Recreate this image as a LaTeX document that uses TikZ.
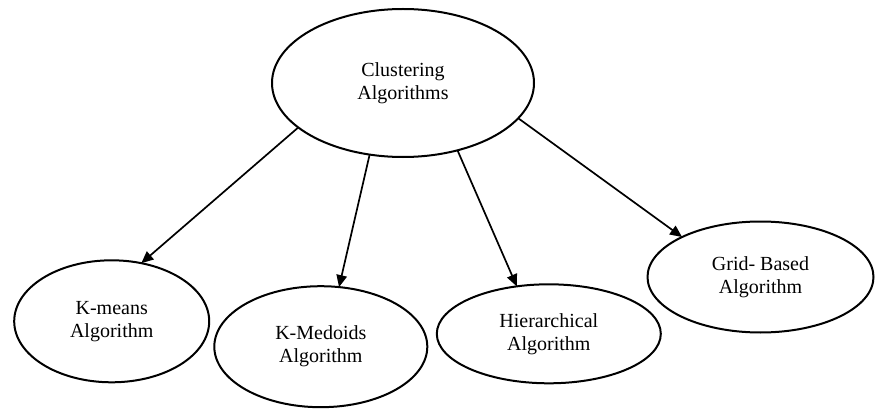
\documentclass[tikz,border=0pt]{standalone}
\usepackage{fontspec}
\setmainfont{Liberation Serif}
\usetikzlibrary{shapes.geometric,arrows.meta}
\tikzset{
  ell/.style={ellipse, draw, line width=2pt, inner sep=0pt, outer sep=0pt,
    align=center, font=\fontsize{20}{23}\selectfont,
    execute at begin node={\rule{0pt}{19.5pt}}},
  conn/.style={line width=1.7pt, -{Triangle[length=12pt,width=10.5pt]}}
}
\begin{document}
\begin{tikzpicture}[x=1pt,y=-1pt]
\useasboundingbox (0,0) rectangle (875,409);
\node[ell, minimum width=262pt, minimum height=148pt] (top) at (403,83) {Clustering\\Algorithms};
\node[ell, minimum width=195pt, minimum height=122pt] (km) at (111.7,321.3) {K-means\\Algorithm};
\node[ell, minimum width=213pt, minimum height=121pt] (kmed) at (320.8,346.7) {K-Medoids\\Algorithm};
\node[ell, minimum width=224pt, minimum height=99pt] (hier) at (548.8,333.8) {Hierarchical\\Algorithm};
\node[ell, minimum width=226pt, minimum height=111pt] (grid) at (760.5,277) {Grid- Based\\Algorithm};
\draw[conn] (top.203.5) -- (km.63.5);
\draw[conn] (top.245.9) -- (kmed.73.7);
\draw[conn] (top.309.3) -- (hier.124.7);
\draw[conn] (top.343.7) -- (grid.153.6);
\end{tikzpicture}
\end{document}
